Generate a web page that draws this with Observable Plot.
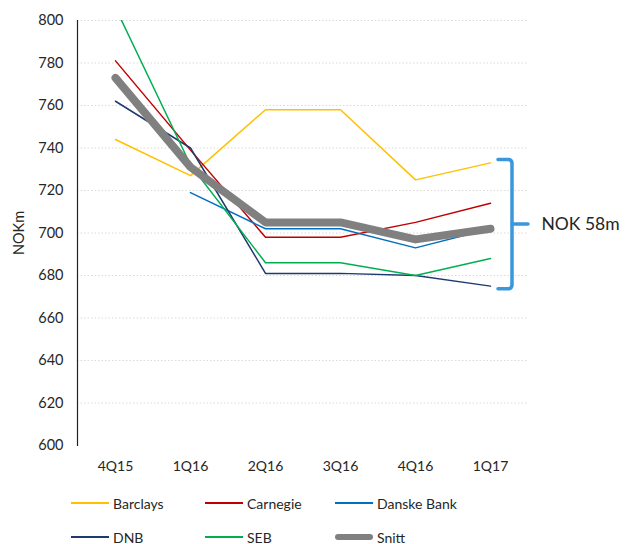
<!DOCTYPE html>
<html>
<head>
<meta charset="utf-8">
<script src="https://cdn.jsdelivr.net/npm/d3@7"></script>
<script src="https://cdn.jsdelivr.net/npm/@observablehq/plot@0.6"></script>
<style>
  html, body { margin: 0; padding: 0; background: #fff; }
  body { width: 629px; height: 544px; position: relative; overflow: hidden; font-family: Lato, "Open Sans", sans-serif; }
  #chart { position: absolute; left: 0; top: 0; }
  #legend { position: absolute; left: 0; top: 0; width: 629px; height: 544px; pointer-events: none; }
  .item { position: absolute; display: flex; align-items: center; font-size: 14px; color: #262626; height: 20px; }
  .sw { width: 38px; height: 0; margin-right: 4px; }
</style>
</head>
<body>
<div id="chart"></div>
<div id="legend"></div>
<script>
const quarters = ["4Q15", "1Q16", "2Q16", "3Q16", "4Q16", "1Q17"];
const seriesNames = ["Barclays", "Carnegie", "Danske Bank", "DNB", "SEB", "Snitt"];
const seriesColors = ["#FFC000", "#C00000", "#0070C0", "#1F3A70", "#00B050", "#808080"];
const barclays = [744, 727, 758, 758, 725, 733];
const carnegie = [781, 739, 698, 698, 705, 714];
const danske = [null, 719, 702, 702, 693, 702];
const dnb = [762, 740, 681, 681, 680, 675];
const seb = [806, 732, 686, 686, 680, 688];
const snitt = [773, 731, 705, 705, 697, 702];
const yTicks = [600, 620, 640, 660, 680, 700, 720, 740, 760, 780, 800];

const seriesValues = [barclays, carnegie, danske, dnb, seb, snitt];
const rows = [];
seriesNames.forEach((name, i) => {
  seriesValues[i].forEach((v, j) => {
    if (v != null) rows.push({series: name, quarter: quarters[j], value: v});
  });
});
const banks = rows.filter(d => d.series !== "Snitt");
const avg = rows.filter(d => d.series === "Snitt");

const last = banks.filter(d => d.quarter === quarters[quarters.length - 1]).map(d => d.value);
const hi = d3.max(last), lo = d3.min(last);
const bracketColor = "#3A97DC";

function bracket(index, scales) {
  const x0 = scales.x(quarters[quarters.length - 1]);
  const yT = scales.y(hi) - 3, yB = scales.y(lo) + 3, yM = (yT + yB) / 2;
  const xl = x0 + 8, xv = x0 + 22, xt = x0 + 38;
  const g = d3.create("svg:g");
  g.append("path")
    .attr("d", `M${xl},${yT} L${xv - 4},${yT} Q${xv},${yT} ${xv},${yT + 4} L${xv},${yB - 4} Q${xv},${yB} ${xv - 4},${yB} L${xl},${yB}`)
    .attr("fill", "none").attr("stroke", bracketColor).attr("stroke-width", 3.5).attr("stroke-linecap", "round");
  g.append("path")
    .attr("d", `M${xv},${yM} L${xt},${yM}`)
    .attr("fill", "none").attr("stroke", bracketColor).attr("stroke-width", 3.5).attr("stroke-linecap", "round");
  return g.node();
}

const chart = Plot.plot({
  width: 629,
  height: 480,
  marginLeft: 77,
  marginRight: 102,
  marginTop: 20,
  marginBottom: 35,
  style: {fontFamily: "Lato, 'Open Sans', sans-serif", fontSize: "14px", color: "#262626", background: "white"},
  x: {type: "point", domain: quarters, padding: 0.5, label: null},
  y: {domain: [600, 800], ticks: yTicks, label: "NOKm"},
  color: {domain: seriesNames, range: seriesColors},
  clip: true,
  marks: [
    Plot.ruleY(yTicks.slice(1), {stroke: "#dadada", strokeDasharray: "1.5,2", strokeWidth: 1}),
    Plot.axisY({ticks: yTicks, tickSize: 0, tickPadding: 14, label: "NOKm", labelAnchor: "center", labelArrow: "none", labelOffset: 64, fontSize: 14.5}),
    Plot.axisX({tickSize: 0, tickPadding: 16, label: null, fontSize: 14}),
    Plot.ruleY([600], {stroke: "#a6a6a6", strokeWidth: 1.2}),
    Plot.frame({anchor: "left", stroke: "#222", strokeWidth: 1.2}),
    Plot.line(banks, {x: "quarter", y: "value", z: "series", stroke: "series", strokeWidth: 1.5, clip: true}),
    Plot.line(avg, {x: "quarter", y: "value", stroke: "series", strokeWidth: 8, strokeLinecap: "round", strokeLinejoin: "round", clip: true}),
    bracket,
    Plot.text([{q: quarters[quarters.length - 1], v: (hi + lo) / 2}], {x: "q", y: "v", text: () => `NOK ${hi - lo}m`, dx: 51, textAnchor: "start", fontSize: 17.5, fill: "#262626", clip: false})
  ]
});
document.getElementById("chart").appendChild(chart);

const legend = document.getElementById("legend");
const cols = [71, 205, 335];
const rowsY = [503, 537];
seriesNames.forEach((name, i) => {
  const el = document.createElement("div");
  el.className = "item";
  el.style.left = cols[i % 3] + "px";
  el.style.top = (rowsY[Math.floor(i / 3)] - 10) + "px";
  const sw = document.createElement("div");
  sw.className = "sw";
  const isAvg = name === "Snitt";
  sw.style.borderTop = `${isAvg ? 6 : 2}px solid ${seriesColors[i]}`;
  if (isAvg) { sw.style.borderRadius = "3px"; }
  el.appendChild(sw);
  const t = document.createElement("span");
  t.textContent = name;
  el.appendChild(t);
  legend.appendChild(el);
});
</script>
</body>
</html>
